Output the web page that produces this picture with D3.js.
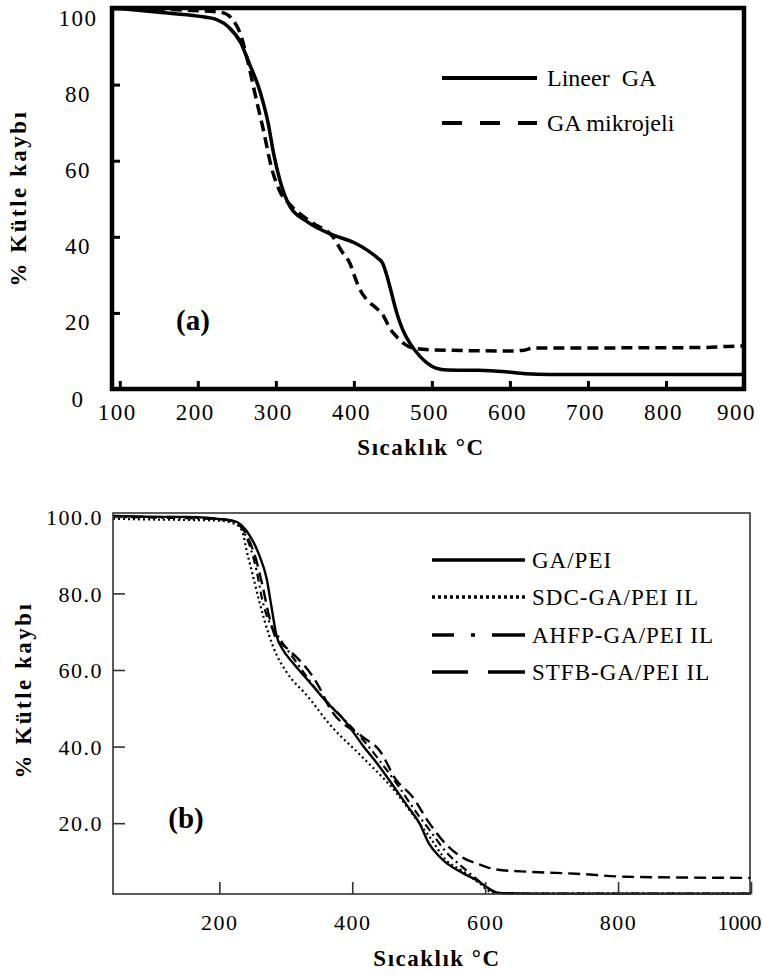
<!DOCTYPE html>
<html>
<head>
<meta charset="utf-8">
<script src="https://cdn.jsdelivr.net/npm/d3@7"></script>
<style>
body { margin: 0; background: #fff; }
</style>
</head>
<body>
<script>
//panel (a) curves: [temperature, % mass]
var lineerGA = [[100,100],[150,99],[200,98],[225,97],[240,95],[255,91],[265,86],[280,78],[290,70],[297,62],
    [305,55],[318,48],[340,44],[373,40.5],[400,38.5],[417,36.5],[430,34.5],[437,33],[442,30],[446,27],[455,20],
    [465,14.5],[472,12],[485,8.5],[494,6.8],[505,5.5],[520,5],[560,4.9],[590,4.6],[620,4],[650,3.8],[900,3.8]];
var mikrojel = [[100,100],[180,99.6],[230,99],[245,97],[255,93],[263,87],[275,76],[283,69],[296,57],[305,52],
    [318,48.5],[348,43.5],[373,40],[385,36],[395,33],[402,29],[408,26],[417,23.4],[430,21],[437,19.5],[446,16],
    [455,13.7],[465,11.8],[475,10.8],[500,10.3],[600,10],[618,10.2],[630,10.8],[700,10.8],[850,10.9],[880,11.2],[900,11.3]];

//panel (b) curves
var gaPEI = [[40,100.2],[100,100],[150,100],[185,99.7],[210,99.2],[226,98.7],[235,97.5],[245,95.3],[260,90],
    [271,84],[278,77],[286,69],[295,65.5],[310,62],[335,57],[361,51.7],[390,46.5],[415,40.5],[440,35],[466,28.7],
    [485,24],[501,20],[516,14.5],[530,11.5],[541,9.7],[566,7],[591,4.7],[605,3],[620,1.8],[700,1.6],[1000,1.6]];
var sdc = [[40,99.5],[100,99.3],[150,99.2],[200,99],[225,98],[235,96],[240,92],[250,85],[260,78],[275,69],
    [286,64],[301,59.5],[335,52.7],[365,46],[415,37.3],[466,28],[490,22.5],[516,16.5],[541,10.4],[566,7.5],
    [590,4.5],[612,1.8],[700,1.6],[1000,1.6]];
var ahfp = [[40,100],[100,99.8],[200,99.4],[225,98.5],[240,95],[256,86],[265,78],[275,72.6],[290,68.4],[316,62],
    [350,54],[380,48.5],[415,42],[466,30.5],[501,21.7],[516,18.3],[541,12.5],[566,8.5],[590,5],[615,2],[640,1.6],[1000,1.6]];
var stfb = [[40,100],[100,100],[200,99.5],[225,98.6],[240,95.5],[255,89],[265,82],[275,74],[286,68],[301,65.8],
    [350,55.6],[365,50.4],[415,42.6],[441,39],[466,31.3],[490,27],[516,20],[541,14.5],[566,11],[590,9.3],
    [617,7.9],[666,7.3],[737,6.8],[812,6],[1000,5.7]];

//tick values
var ticksAx = [100,200,300,400,500,600,700,800,900];
var ticksAy = [0,20,40,60,80,100];
var ticksBx = [200,400,600,800,1000];
var ticksBy = [20,40,60,80,100];

var serif = "'Liberation Serif', 'Times New Roman', 'DejaVu Serif', serif";

var svg = d3.select("body").append("svg")
    .attr("width", 762)
    .attr("height", 975)
    .style("font-family", serif);

//helper for serif text styling
function txt(sel, size, bold, spacing) {
    return sel.style("font-family", serif)
        .style("font-size", size + "px")
        .style("font-weight", bold ? "bold" : "normal")
        .style("letter-spacing", spacing + "px")
        .attr("fill", "#000");
}

// ---------- panel (a) ----------
var xA = d3.scaleLinear().domain([90, 900]).range([112, 744]);
var yA = d3.scaleLinear().domain([0, 100]).range([389, 8.5]);

var lineA = d3.line()
    .x(d => xA(d[0]))
    .y(d => yA(d[1]))
    .curve(d3.curveMonotoneX);

svg.append("path").datum(lineerGA)
    .attr("d", lineA).attr("fill", "none")
    .attr("stroke", "#000").attr("stroke-width", 3.5);
svg.append("path").datum(mikrojel)
    .attr("d", lineA).attr("fill", "none")
    .attr("stroke", "#000").attr("stroke-width", 3.5)
    .attr("stroke-dasharray", "11,6");

//thick frame
svg.append("rect")
    .attr("x", 112).attr("y", 8)
    .attr("width", 632).attr("height", 381)
    .attr("fill", "none").attr("stroke", "#000").attr("stroke-width", 4.5);

var axA_x = svg.append("g")
    .attr("transform", "translate(0,389)")
    .call(d3.axisBottom(xA).tickValues(ticksAx).tickSize(-8));
axA_x.attr("font-family", null).attr("font-size", null);
axA_x.select(".domain").remove();
axA_x.selectAll("line").attr("stroke-width", 3);
txt(axA_x.selectAll("text"), 23, false, 1.5)
    .attr("x", d => d === 900 ? -8 : -3)
    .attr("y", 23).attr("dy", "0.35em");

var axA_y = svg.append("g")
    .attr("transform", "translate(112,0)")
    .call(d3.axisLeft(yA).tickValues(ticksAy).tickSize(-8));
axA_y.attr("font-family", null).attr("font-size", null);
axA_y.select(".domain").remove();
axA_y.selectAll("line").attr("stroke-width", 3);
txt(axA_y.selectAll("text"), 23, false, 1.5)
    .attr("x", -34).attr("y", 9).attr("dy", "0.35em")
    .attr("text-anchor", "middle");

//titles
txt(svg.append("text"), 23, true, 1.5)
    .attr("x", 421).attr("y", 455)
    .attr("text-anchor", "middle")
    .text("Sıcaklık °C");
txt(svg.append("text"), 23, true, 2.5)
    .attr("transform", "translate(26,198) rotate(-90)")
    .attr("text-anchor", "middle")
    .text("% Kütle kaybı");
txt(svg.append("text"), 29, true, 0)
    .attr("x", 193).attr("y", 330)
    .attr("text-anchor", "middle")
    .text("(a)");

//legend (a)
var legA = [
    {name: "Lineer  GA", dash: null, y: 78},
    {name: "GA mikrojeli", dash: "20,18", y: 123}
];
legA.forEach(d => {
    svg.append("line")
        .attr("x1", 442).attr("x2", 537)
        .attr("y1", d.y).attr("y2", d.y)
        .attr("stroke", "#000").attr("stroke-width", 4)
        .attr("stroke-dasharray", d.dash);
    txt(svg.append("text"), 24, false, 0)
        .attr("x", 547).attr("y", d.y).attr("dy", "0.35em")
        .style("white-space", "pre")
        .text(d.name);
});

// ---------- panel (b) ----------
var xB = d3.scaleLinear().domain([40, 1000]).range([113, 751]);
var yB = d3.scaleLinear().domain([1.5, 101]).range([894, 513]);

var lineB = d3.line()
    .x(d => xB(d[0]))
    .y(d => yB(d[1]))
    .curve(d3.curveMonotoneX);

var seriesB = [
    {data: gaPEI, dash: null, w: 2.4},
    {data: sdc, dash: "2,3", w: 2.2},
    {data: ahfp, dash: "8,4,2,4", w: 2.2},
    {data: stfb, dash: "12,6", w: 2.4}
];
seriesB.forEach(s => {
    svg.append("path").datum(s.data)
        .attr("d", lineB).attr("fill", "none")
        .attr("stroke", "#000").attr("stroke-width", s.w)
        .attr("stroke-dasharray", s.dash);
});

//thin frame
svg.append("rect")
    .attr("x", 113).attr("y", 513)
    .attr("width", 637).attr("height", 381)
    .attr("fill", "none").attr("stroke", "#333").attr("stroke-width", 1.6);

var axB_x = svg.append("g")
    .attr("transform", "translate(0,894)")
    .call(d3.axisBottom(xB).tickValues(ticksBx).tickSize(-12).tickFormat(d3.format("d")));
axB_x.attr("font-family", null).attr("font-size", null);
axB_x.select(".domain").remove();
axB_x.selectAll("line").attr("stroke", "#333").attr("stroke-width", 1.6);
txt(axB_x.selectAll("text"), 22, false, 1.5)
    .attr("y", 28).attr("dy", "0.35em");
//last label sits against the right edge
axB_x.selectAll("text").filter(d => d === 1000)
    .attr("text-anchor", "end").attr("x", 10)
    .style("letter-spacing", "0px");

var axB_y = svg.append("g")
    .attr("transform", "translate(113,0)")
    .call(d3.axisLeft(yB).tickValues(ticksBy).tickSize(-12).tickFormat(d3.format(".1f")));
axB_y.attr("font-family", null).attr("font-size", null);
axB_y.select(".domain").remove();
axB_y.selectAll("line").attr("stroke", "#333").attr("stroke-width", 1.6);
txt(axB_y.selectAll("text"), 22, false, 1.5)
    .attr("x", -10).attr("dy", "0.35em");

txt(svg.append("text"), 23, true, 1.5)
    .attr("x", 437).attr("y", 966)
    .attr("text-anchor", "middle")
    .text("Sıcaklık °C");
txt(svg.append("text"), 23, true, 2.5)
    .attr("transform", "translate(31,690) rotate(-90)")
    .attr("text-anchor", "middle")
    .text("% Kütle kaybı");
txt(svg.append("text"), 29, true, 0)
    .attr("x", 186).attr("y", 828)
    .attr("text-anchor", "middle")
    .text("(b)");

//legend (b)
var legB = [
    {name: "GA/PEI", dash: null, y: 560},
    {name: "SDC-GA/PEI IL", dash: "3,3", y: 597},
    {name: "AHFP-GA/PEI IL", dash: "22,17,4,17,40", y: 635},
    {name: "STFB-GA/PEI IL", dash: "36,20,40", y: 672}
];
legB.forEach(d => {
    svg.append("line")
        .attr("x1", 432).attr("x2", 525)
        .attr("y1", d.y).attr("y2", d.y)
        .attr("stroke", "#000").attr("stroke-width", 3.5)
        .attr("stroke-dasharray", d.dash);
    txt(svg.append("text"), 23, false, 1)
        .attr("x", 532).attr("y", d.y).attr("dy", "0.35em")
        .text(d.name);
});
</script>
</body>
</html>
